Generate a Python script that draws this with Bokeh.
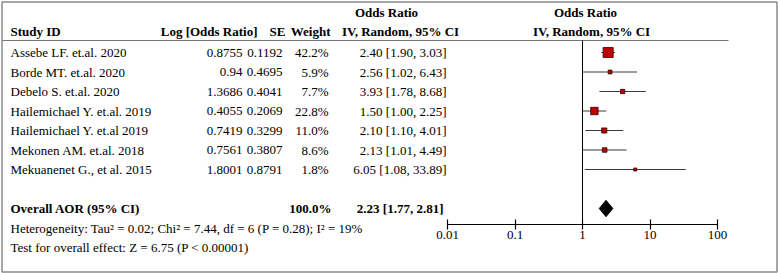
import numpy as np
from bokeh.plotting import figure
from bokeh.models import Range1d, LogScale, LogAxis, FixedTicker, NumeralTickFormatter, ColumnDataSource
from bokeh.core.properties import value
from bokeh.embed import file_html
from bokeh.resources import INLINE

# ---- data ----
studies = ["Assebe LF. et.al. 2020", "Borde MT. et.al. 2020", "Debelo S. et.al. 2020",
           "Hailemichael Y. et.al. 2019", "Hailemichael Y. et.al 2019",
           "Mekonen AM. et.al. 2018", "Mekuanenet G., et al. 2015"]
log_or = ["0.8755", "0.94", "1.3686", "0.4055", "0.7419", "0.7561", "1.8001"]
se = ["0.1192", "0.4695", "0.4041", "0.2069", "0.3299", "0.3807", "0.8791"]
weight = [42.2, 5.9, 7.7, 22.8, 11.0, 8.6, 1.8]
or_est = [2.40, 2.56, 3.93, 1.50, 2.10, 2.13, 6.05]
ci_low = [1.90, 1.02, 1.78, 1.00, 1.10, 1.01, 1.08]
ci_high = [3.03, 6.43, 8.68, 2.25, 4.01, 4.49, 33.89]
overall = (2.23, 1.77, 2.81)
overall_label = "Overall AOR (95% CI)"
heterogeneity = "Heterogeneity: Tau\u00b2 = 0.02; Chi\u00b2 = 7.44, df = 6 (P = 0.28); I\u00b2 = 19%"
overall_test = "Test for overall effect: Z = 6.75 (P < 0.00001)"
axis_ticks = [0.01, 0.1, 1, 10, 100]

FONT = "Liberation Serif"
FS = "13px"

W, H = 780, 273
p = figure(width=W, height=H, output_backend="svg", toolbar_location=None,
           x_range=Range1d(0, W), y_range=Range1d(11.333, -2.667),
           min_border=0, min_border_left=0, min_border_right=0,
           min_border_top=0, min_border_bottom=0)
p.axis.visible = False
p.grid.visible = False
p.outline_line_color = None
p.background_fill_color = "white"
p.border_fill_color = "white"

# log scale for forest area: 0.01 -> px 447, 100 -> px 717
ppd = 67.5
lo = 10 ** (-2 - 447 / ppd)
hi = 10 ** (2 + (W - 717) / ppd)
p.extra_x_ranges = {"or": Range1d(lo, hi)}
p.extra_x_scales = {"or": LogScale()}

n = len(studies)
rows = list(range(n))

# border box (pixel-unit x range)
p.quad(left=[1.5], right=[776.5], top=[-2.59], bottom=[11.25], fill_color=None,
       line_color="#8a8a8a", line_width=1.5)

# header rule
p.segment(x0=[2], x1=[728], y0=[-0.615], y1=[-0.615], line_color="#777777", line_width=1)

def txt(x, y, t, align="left", bold=False, size=FS):
    src = ColumnDataSource(dict(x=x, y=y, t=t))
    p.text(x="x", y="y", text="t", source=src, text_font=value(FONT), text_font_size=value(size),
           text_align=align, text_baseline="middle",
           text_font_style="bold" if bold else "normal", text_color="black")

# headers
txt([386], [-2.05], ["Odds Ratio"], "center", True)
txt([585], [-2.05], ["Odds Ratio"], "center", True)
txt([10], [-1.08], ["Study ID"], "left", True)
txt([257], [-1.08], ["Log [Odds Ratio]"], "right", True)
txt([285], [-1.08], ["SE"], "right", True)
txt([330], [-1.08], ["Weight"], "right", True)
txt([400], [-1.08], ["IV, Random, 95% CI"], "center", True)
txt([591], [-1.08], ["IV, Random, 95% CI"], "center", True)

# study rows
txt([10] * n, rows, studies, "left")
txt([242] * n, rows, log_or, "right")
txt([282] * n, rows, se, "right")
txt([328] * n, rows, [f"{w:.1f}%" for w in weight], "right")
txt([446] * n, rows, [f"{o:.2f} [{l:.2f}, {h:.2f}]" for o, l, h in zip(or_est, ci_low, ci_high)], "right")

# overall row
orow = n + 1
txt([10], [orow], [overall_label], "left", True)
txt([331], [orow], [f"{sum(weight):.1f}%"], "right", True)
txt([443], [orow], [f"{overall[0]:.2f} [{overall[1]:.2f}, {overall[2]:.2f}]"], "right", True)
txt([10], [orow + 1], [heterogeneity], "left")
txt([10], [orow + 2], [overall_test], "left")

# forest: CI lines, squares
p.segment(x0=ci_low, x1=ci_high, y0=rows, y1=rows, x_range_name="or",
          line_color="#3a3a3a", line_width=1.1)
sizes = [max(3.0, 1.55 * np.sqrt(w)) for w in weight]
p.scatter(x=or_est, y=rows, size=sizes, marker="square", x_range_name="or",
          fill_color="#bf0000", line_color="#300000", line_width=0.8)

# null line
axis_y = 8.82
p.segment(x0=[1], x1=[1], y0=[-0.615], y1=[axis_y], x_range_name="or",
          line_color="black", line_width=1)

# overall diamond
dh = 0.42
p.patch(x=[overall[1], overall[0], overall[2], overall[0]],
        y=[orow, orow - dh, orow, orow + dh], x_range_name="or",
        fill_color="black", line_color="black")

# log axis
ax = LogAxis(x_range_name="or", fixed_location=axis_y,
             ticker=FixedTicker(ticks=axis_ticks, minor_ticks=[]),
             formatter=NumeralTickFormatter(format="0.[00]"),
             bounds=(axis_ticks[0], axis_ticks[-1]))
ax.axis_line_color = "black"
ax.axis_line_width = 1.2
ax.major_tick_line_color = "black"
ax.major_tick_line_width = 1.2
ax.major_tick_in = 5
ax.major_tick_out = 5
ax.minor_tick_line_color = None
ax.major_label_standoff = 2
ax.major_label_text_font = FONT
ax.major_label_text_font_size = FS
ax.major_label_text_color = "black"
p.add_layout(ax, "below")

open("out.html", "w").write(file_html(p, INLINE))
